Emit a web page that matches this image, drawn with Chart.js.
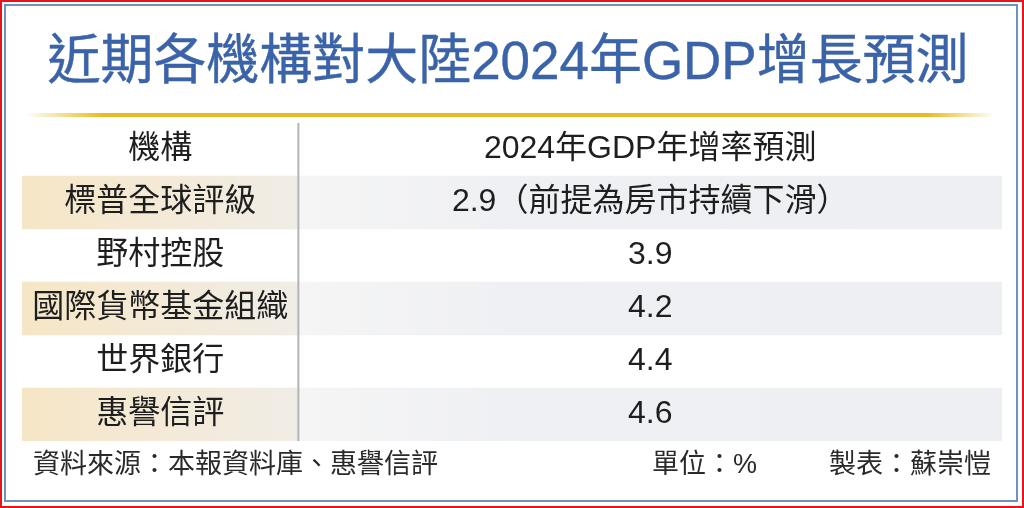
<!DOCTYPE html>
<html>
<head>
<meta charset="utf-8">
<script src="https://cdn.jsdelivr.net/npm/chart.js@4"></script>
<style>
  html, body { margin: 0; padding: 0; background: #fff; }
  #wrap { width: 1024px; height: 508px; }
</style>
</head>
<body>
<div id="wrap"><canvas id="myChart" width="1024" height="508"></canvas></div>
<script>
// table data
const headerLeft = '機構';
const headerRight = '2024年GDP年增率預測';
const institutions = ['標普全球評級', '野村控股', '國際貨幣基金組織', '世界銀行', '惠譽信評'];
const forecasts = [2.9, 3.9, 4.2, 4.4, 4.6];
const notes = ['（前提為房市持續下滑）', '', '', '', ''];

const titleText = '近期各機構對大陸2024年GDP增長預測';
const sourceText = '資料來源：本報資料庫、惠譽信評';
const unitText = '單位：%';
const makerText = '製表：蘇崇愷';

// row labels incl. header row
const rowLabels = [headerLeft].concat(institutions);
const SPLIT = 28.2; // column split on the 0..100 x scale
const FONT = '"Liberation Sans", "Noto Sans CJK TC", sans-serif';

function cellColor(ctx, left) {
  const chart = ctx.chart;
  const area = chart.chartArea;
  if (!area) return 'transparent';
  const i = ctx.dataIndex;
  if (i % 2 === 0) return 'transparent'; // header and white rows
  const xs = chart.scales.x;
  const c = chart.ctx;
  if (left) {
    const g = c.createLinearGradient(xs.getPixelForValue(0), 0, xs.getPixelForValue(SPLIT), 0);
    g.addColorStop(0, '#f6e6c6');
    g.addColorStop(1, '#f0ede7');
    return g;
  }
  const g = c.createLinearGradient(xs.getPixelForValue(SPLIT), 0, xs.getPixelForValue(100), 0);
  g.addColorStop(0, '#f5f5f5');
  g.addColorStop(0.3, '#eff0f3');
  g.addColorStop(1, '#eeeff3');
  return g;
}

const tablePlugin = {
  id: 'tablePlugin',
  beforeDraw(chart) {
    const c = chart.ctx;
    c.save();
    c.fillStyle = '#fff';
    c.fillRect(0, 0, chart.width, chart.height);
    // outer frames
    c.lineWidth = 2;
    c.strokeStyle = '#e8141c';
    c.strokeRect(1, 1, chart.width - 2, chart.height - 2);
    c.strokeStyle = '#7090bd';
    c.strokeRect(5, 5, 1012, 496);
    c.restore();
  },
  afterDatasetsDraw(chart) {
    const c = chart.ctx;
    const xs = chart.scales.x, ys = chart.scales.y;
    const area = chart.chartArea;
    c.save();
    // column separator
    const sx = xs.getPixelForValue(SPLIT);
    c.strokeStyle = '#b4b4b4';
    c.lineWidth = 2;
    c.beginPath();
    c.moveTo(sx, area.top);
    c.lineTo(sx, area.bottom);
    c.stroke();

    // cell texts
    const lx = xs.getPixelForValue(SPLIT / 2);
    const rx = xs.getPixelForValue((SPLIT + 100) / 2);
    c.fillStyle = '#1e1e1e';
    c.textAlign = 'center';
    c.textBaseline = 'middle';
    c.font = '32px ' + FONT;
    rowLabels.forEach(function(lab, i) {
      const y = ys.getPixelForValue(i);
      c.fillText(lab, lx, y);
      let txt;
      if (i === 0) txt = headerRight;
      else txt = forecasts[i - 1].toFixed(1) + notes[i - 1];
      c.fillText(txt, rx, y);
    });

    // title (regular face, a touch heavier)
    c.fillStyle = '#3a63a9';
    c.strokeStyle = '#3a63a9';
    c.lineWidth = 0.4;
    c.font = '54px ' + FONT;
    const w = c.measureText(titleText).width;
    const target = 921;
    c.save();
    c.translate(508, 64);
    c.scale(target / w, 1);
    c.fillText(titleText, 0, 0);
    c.strokeText(titleText, 0, 0);
    c.restore();

    // gold rule
    const g = c.createLinearGradient(25, 0, 995, 0);
    g.addColorStop(0, 'rgba(233,187,34,0)');
    g.addColorStop(0.08, 'rgba(233,187,34,1)');
    g.addColorStop(0.93, 'rgba(233,187,34,1)');
    g.addColorStop(1, 'rgba(233,187,34,0)');
    c.fillStyle = g;
    c.fillRect(25, 113, 970, 4);

    // footer
    c.fillStyle = '#2a2a2a';
    c.font = '27px ' + FONT;
    c.textAlign = 'left';
    c.fillText(sourceText, 33, 466);
    c.fillText(unitText, 652, 466);
    c.textAlign = 'right';
    c.fillText(makerText, 991, 466);
    c.restore();
  }
};

const ctx = document.getElementById('myChart');

new Chart(ctx, {
  type: 'bar',
  data: {
    labels: rowLabels,
    datasets: [
      {
        label: 'left',
        data: rowLabels.map(() => [0, SPLIT]),
        backgroundColor: (c) => cellColor(c, true),
        grouped: false,
        barPercentage: 1,
        categoryPercentage: 1,
        borderWidth: 0
      },
      {
        label: 'right',
        data: rowLabels.map(() => [SPLIT, 100]),
        backgroundColor: (c) => cellColor(c, false),
        grouped: false,
        barPercentage: 1,
        categoryPercentage: 1,
        borderWidth: 0
      }
    ]
  },
  options: {
    indexAxis: 'y',
    responsive: false,
    animation: false,
    events: [],
    layout: { padding: { top: 123, bottom: 67, left: 22, right: 22 } },
    plugins: {
      legend: { display: false },
      title: { display: false },
      tooltip: { enabled: false }
    },
    scales: {
      x: { type: 'linear', min: 0, max: 100, display: false },
      y: { type: 'category', display: false }
    }
  },
  plugins: [tablePlugin]
});
</script>
</body>
</html>
